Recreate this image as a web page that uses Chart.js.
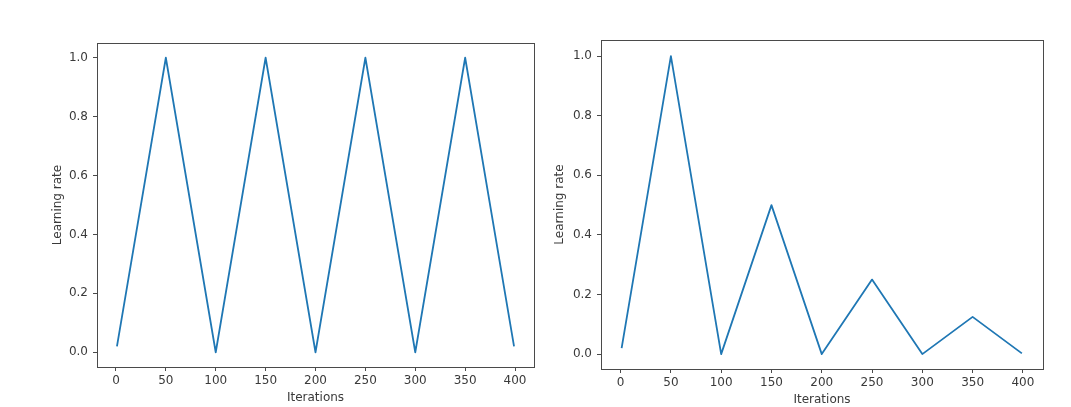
<!DOCTYPE html>
<html>
<head>
<meta charset="utf-8">
<script src="https://cdn.jsdelivr.net/npm/chart.js@4"></script>
<style>
  html, body { margin: 0; padding: 0; background: #ffffff; }
  body { width: 1071px; height: 407px; position: relative; overflow: hidden; }
  canvas { position: absolute; top: 0; }
  #c1 { left: 0px; }
  #c2 { left: 530px; }
</style>
</head>
<body>
<canvas id="c1" width="540" height="407"></canvas>
<canvas id="c2" width="541" height="407"></canvas>
<script>
// ---- data ----
const iterations = [1, 50, 100, 150, 200, 250, 300, 350, 399];
const lrTriangular = [0.02, 1.0, 0.0, 1.0, 0.0, 1.0, 0.0, 1.0, 0.02];
const lrTriangular2 = [0.02, 1.0, 0.0, 0.5, 0.0, 0.25, 0.0, 0.125, 0.0025];
const xTicks = [0, 50, 100, 150, 200, 250, 300, 350, 400];
const yTicks = [0.0, 0.2, 0.4, 0.6, 0.8, 1.0];
const xTitle = 'Iterations';
const yTitle = 'Learning rate';

const LINE = '#1f77b4';
const INK = '#3a3a3a';
const FRAME = '#4a4a4a';
const FONT = { family: 'DejaVu Sans', size: 12 };

const framePlugin = {
  id: 'frame',
  afterDraw(chart) {
    const a = chart.chartArea, ctx = chart.ctx;
    ctx.save();
    ctx.strokeStyle = FRAME;
    ctx.lineWidth = 1;
    ctx.strokeRect(Math.round(a.left) + 0.5, Math.round(a.top) + 0.5,
                   Math.round(a.right - a.left), Math.round(a.bottom - a.top));
    ctx.restore();
  }
};

function makeChart(id, values, cfg) {
  const pts = iterations.map((x, i) => ({ x: x, y: values[i] }));
  return new Chart(document.getElementById(id), {
    type: 'line',
    data: { datasets: [{ data: pts, borderColor: LINE, borderWidth: 1.8,
                         borderJoinStyle: 'round', borderCapStyle: 'butt',
                         pointRadius: 0, tension: 0, fill: false }] },
    plugins: [framePlugin],
    options: {
      responsive: false,
      animation: false,
      events: [],
      layout: { padding: { top: cfg.padTop, right: cfg.padRight, left: 0, bottom: 0 } },
      plugins: { legend: { display: false }, tooltip: { enabled: false } },
      scales: {
        x: {
          type: 'linear',
          min: cfg.xMin, max: cfg.xMax,
          afterBuildTicks: s => { s.ticks = xTicks.map(v => ({ value: v })); },
          afterFit: s => { s.height = cfg.xAxisH; },
          grid: { drawOnChartArea: false, drawTicks: true, tickLength: 4, color: FRAME },
          border: { display: false },
          ticks: { color: INK, font: FONT, padding: 3, maxRotation: 0,
                   callback: v => String(v) },
          title: { display: true, text: xTitle, color: INK, font: FONT,
                   padding: { top: 0, bottom: cfg.xTitlePadB } }
        },
        y: {
          type: 'linear',
          min: cfg.yMin, max: cfg.yMax,
          afterBuildTicks: s => { s.ticks = yTicks.map(v => ({ value: v })); },
          afterFit: s => { s.width = cfg.yAxisW; },
          grid: { drawOnChartArea: false, drawTicks: true, tickLength: 4, color: FRAME },
          border: { display: false },
          ticks: { color: INK, font: FONT, padding: 5,
                   callback: v => Number(v).toFixed(1) },
          title: { display: true, text: yTitle, color: INK, font: FONT,
                   padding: { top: cfg.yTitlePadT, bottom: 0 } }
        }
      }
    }
  });
}

makeChart('c1', lrTriangular, {
  padTop: 43, padRight: 6, yAxisW: 97, xAxisH: 40,
  xMin: -19, xMax: 419, yMin: -0.05, yMax: 1.05,
  xTitlePadB: 2, yTitlePadT: 51
});
makeChart('c2', lrTriangular2, {
  padTop: 40, padRight: 28, yAxisW: 71, xAxisH: 38,
  xMin: -19.5, xMax: 420, yMin: -0.05, yMax: 1.054,
  xTitlePadB: 0, yTitlePadT: 23
});
</script>
</body>
</html>
